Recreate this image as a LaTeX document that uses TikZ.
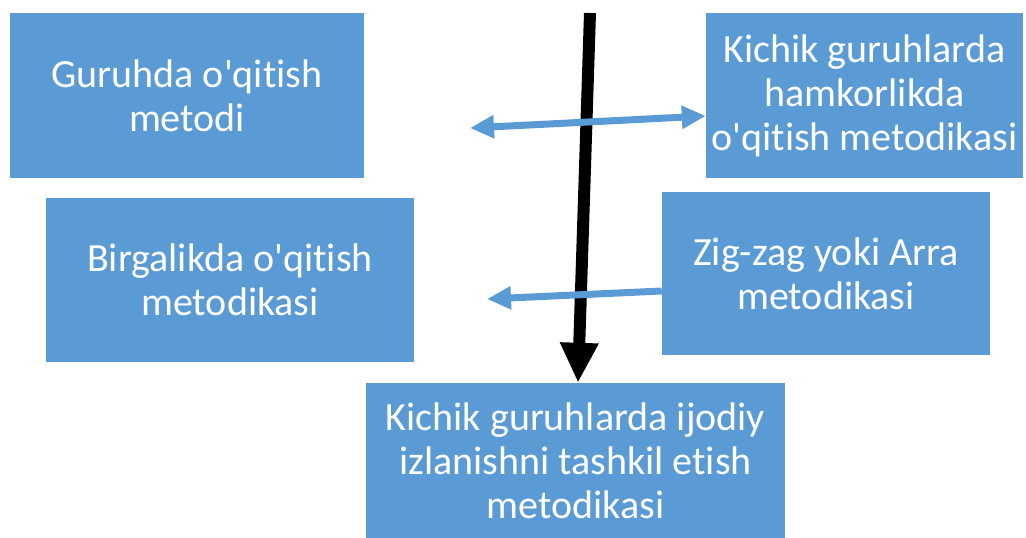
\documentclass[tikz,border=0pt]{standalone}
\usepackage{fontspec}
\setmainfont[Ligatures={NoCommon}]{Carlito}
\usetikzlibrary{arrows.meta}
\definecolor{boxblue}{HTML}{5B9BD5}
\newcommand{\apo}{\textquotesingle}
\begin{document}
\begin{tikzpicture}[x=1pt, y=-1pt,
    box/.style={fill=boxblue, text=white, align=center, inner sep=0pt,
      font=\fontsize{40}{44}\selectfont},
    bluearrow/.style={draw=boxblue, line width=7pt,
      -{Triangle[length=24pt, width=22pt]}},
    blackarrow/.style={draw=black, line width=12pt,
      -{Triangle[length=40pt, width=36pt]}}]
  \useasboundingbox (0,0) rectangle (1026,538);
  \node[box, minimum width=354pt, minimum height=165pt] (group) at (187,95.5)
    {Guruhda o\apo{}qitish\\metodi};
  \node[box, minimum width=317pt, minimum height=165pt] (coop) at (864.5,95.5)
    {Kichik guruhlarda\\hamkorlikda\\o\apo{}qitish metodikasi};
  \node[box, minimum width=368pt, minimum height=164pt] (joint) at (230,280)
    {Birgalikda o\apo{}qitish\\metodikasi};
  \node[box, minimum width=328pt, minimum height=163pt] (zigzag) at (826,273.5)
    {Zig-zag yoki Arra\\metodikasi};
  \node[box, minimum width=419pt, minimum height=155pt] (creative) at (575.5,460.5)
    {Kichik guruhlarda ijodiy\\izlanishni tashkil etish\\metodikasi};
  % free ends of the arrows
  \coordinate (top) at (590,13);
  \coordinate (left1) at (470,128);
  \coordinate (left2) at (487,299);
  \draw[blackarrow] (top) -- (creative.north -| 578,0);
  \draw[bluearrow, {Triangle[length=24pt, width=22pt]}-{Triangle[length=24pt, width=22pt]}]
    (left1) -- (coop.west |- 0,116);
  \draw[bluearrow] (zigzag.west |- 0,291) -- (left2);
\end{tikzpicture}
\end{document}
